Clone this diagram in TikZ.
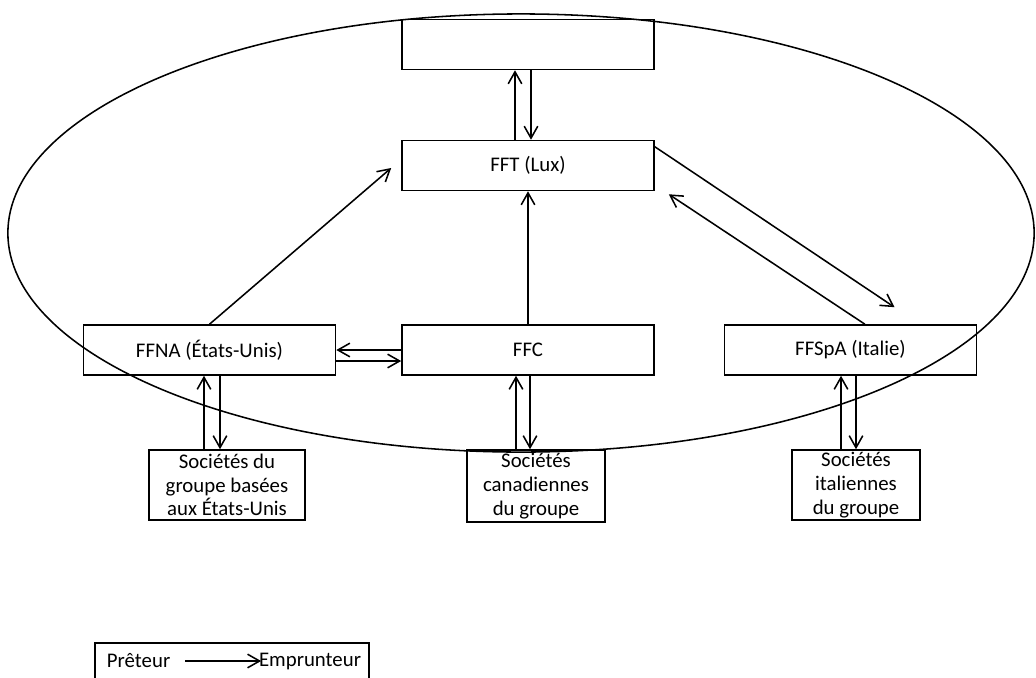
\documentclass[tikz,border=0pt]{standalone}
\usepackage{fontspec}
\setmainfont{Carlito}
\usetikzlibrary{arrows.meta}

\tikzset{
  bigbox/.style={draw, line width=1.1pt, minimum width=6.3cm, minimum height=1.25cm, inner sep=0pt},
  socbox/.style={draw, line width=1.1pt, align=center, inner sep=0pt},
  pret/.style={-{Straight Barb[length=3mm,width=3.4mm]}, line width=1.1pt},
}

\begin{document}
\begin{tikzpicture}[x=0.025cm, y=-0.025cm, font=\fontsize{14.8}{16.8}\selectfont]
    \clip (0,0) rectangle (1036,677);
    % filiales de financement
    \node[bigbox] (top) at (528,44.5) {};
    \node[bigbox] (fft) at (528,165.5) {FFT (Lux)};
    \node[bigbox] (ffna) at (209.5,350) {FFNA (États-Unis)};
    \node[bigbox] (ffc) at (528,350) {FFC};
    \node[bigbox] (ffspa) at (850.5,350) {FFSpA (Italie)};
    % sociétés du groupe
    \node[socbox, minimum width=3.9cm, minimum height=1.75cm] (socus) at (227,485) {Sociétés du\\groupe basées\\aux États-Unis};
    \node[socbox, minimum width=3.45cm, minimum height=1.8cm] (socca) at (536,486) {Sociétés\\canadiennes\\du groupe};
    \node[socbox, minimum width=3.2cm, minimum height=1.75cm] (socit) at (856,485) {Sociétés\\italiennes\\du groupe};
    \draw[line width=1.1pt] (521,233) ellipse [x radius=12.825cm, y radius=5.475cm];
    % prêts
    \draw[pret] ([xshift=-0.325cm]fft.north) -- ([xshift=-0.325cm]top.south);
    \draw[pret] ([xshift=0.075cm]top.south) -- ([xshift=0.075cm]fft.north);
    \draw[pret] (ffna.north) -- ([xshift=-0.25cm,yshift=-0.0625cm]fft.west);
    \draw[pret] (ffc.north) -- (fft.south);
    \draw[pret] ([yshift=-0.175cm]fft.north east) -- ([xshift=1.1cm,yshift=0.425cm]ffspa.north);
    \draw[pret] ([xshift=0.36cm]ffspa.north) -- ([xshift=0.35cm,yshift=-0.075cm]fft.south east);
    \draw[pret] (ffc.west) -- (ffna.east);
    \draw[pret] ([yshift=-0.275cm]ffna.east) -- ([yshift=-0.275cm]ffc.west);
    \draw[pret] ([xshift=-0.575cm]socus.north) -- ([xshift=-0.1375cm]ffna.south);
    \draw[pret] ([xshift=0.2625cm]ffna.south) -- ([xshift=-0.175cm]socus.north);
    \draw[pret] ([xshift=-0.5cm]socca.north) -- ([xshift=-0.3cm]ffc.south);
    \draw[pret] ([xshift=0.05cm]ffc.south) -- ([xshift=-0.15cm]socca.north);
    \draw[pret] ([xshift=-0.375cm]socit.north) -- ([xshift=-0.2375cm]ffspa.south);
    \draw[pret] ([xshift=0.1375cm]ffspa.south) -- (socit.north);
    % légende
    \node[draw, line width=1.1pt, minimum width=6.85cm, minimum height=1.5cm, anchor=north west] (legende) at (94,642) {};
    \node[anchor=west] (preteur) at (102,661) {Prêteur};
    \node[anchor=east] (emprunteur) at (366,661) {Emprunteur};
    \draw[pret] ([xshift=0.25cm]preteur.east) -- ([xshift=0.175cm]emprunteur.west);
\end{tikzpicture}
\end{document}
